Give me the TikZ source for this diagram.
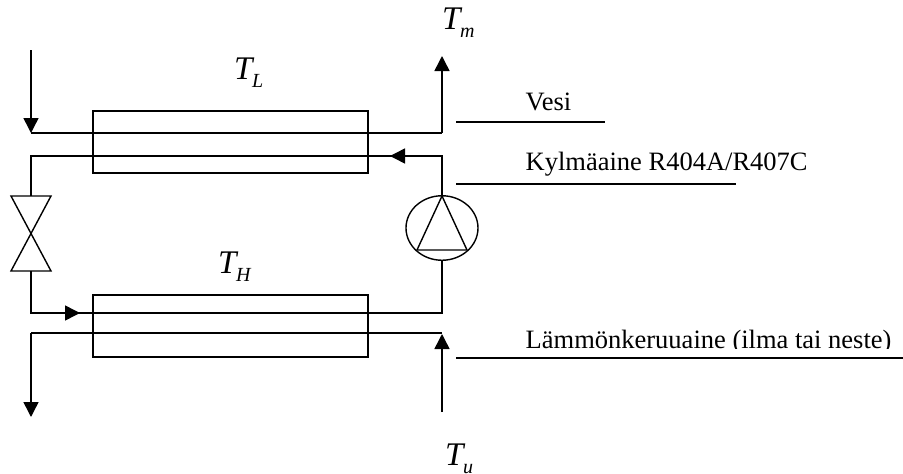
\documentclass[tikz,border=0pt]{standalone}
\usepackage{fontspec}
\setmainfont{Liberation Serif}
\usetikzlibrary{arrows.meta,shapes.geometric}
\newcommand{\TempLabel}[1]{\fontsize{33}{33}\selectfont\textit{T}\kern-2.4pt\raisebox{-8pt}{\fontsize{20}{20}\selectfont\textit{#1}}}
\tikzset{
  x=1pt,y=-1pt,
  pipe/.style={draw=black,line width=1.5pt,line join=miter},
  flow/.style={pipe,-{Triangle[width=15pt,length=15pt]}},
  hx/.style={draw=black,line width=1.4pt,rectangle,inner sep=0pt,minimum width=275pt},
  pumpc/.style={draw=black,line width=1.4pt,ellipse,inner sep=0pt,minimum width=72pt,minimum height=64.5pt},
  caption/.style={font=\fontsize{26.5}{28}\selectfont,anchor=base west,inner sep=0pt},
  temp/.style={anchor=base west,inner sep=0pt},
  rule/.style={draw=black,line width=1.5pt}
}
\begin{document}
\begin{tikzpicture}
\useasboundingbox[clip] (0,0) rectangle (903,474);
% exchangers
\node[hx,minimum height=62pt] (hxL) at (230.5,142) {};
\node[hx,minimum height=62pt] (hxH) at (230.5,326) {};
% pump and valve
\node[pumpc] (pump) at (442,228) {};
\coordinate (ptop) at (442,196);
\coordinate (pbl) at (417,250);
\coordinate (pbr) at (467,250);
\draw[pipe,line width=1.4pt] (ptop) -- (pbl) -- (pbr) -- cycle;
\coordinate (vtl) at (11,196);
\coordinate (vtr) at (51,196);
\coordinate (vm) at (31,234);
\coordinate (vbl) at (11,271);
\coordinate (vbr) at (51,271);
\draw[pipe,line width=1.4pt] (vtl) -- (vtr) -- (vbl) -- (vbr) -- cycle;
\coordinate (vt) at (31,196);
\coordinate (vb) at (31,271);
% water circuit
\coordinate (w0) at (31,50);
\coordinate (w1) at (31,133);
\coordinate (w2) at (442,133);
\coordinate (w3) at (442,56);
\draw[flow] (w0) -- (w1);
\draw[pipe] (w1) -- (w2);
\draw[flow] (w2) -- (w3);
% refrigerant circuit
\coordinate (r1) at (442,156);
\coordinate (r2) at (31,156);
\coordinate (ra) at (390,156);
\draw[pipe] (ptop) -- (r1) -- (r2) -- (vt);
\draw[flow] (r1) -- (ra);
\coordinate (r3) at (31,313);
\coordinate (r4) at (442,313);
\coordinate (rb) at (80,313);
\draw[pipe] (vb) -- (r3) -- (r4) -- (pump.south);
\draw[flow] (50,313) -- (rb);
% source circuit
\coordinate (s0) at (442,412);
\coordinate (s1) at (442,334);
\coordinate (s2) at (31,333);
\coordinate (s3) at (31,417);
\draw[flow] (s0) -- (s1);
\draw[pipe,line width=1.3pt] (442,333) -- (s2);
\draw[flow] (s2) -- (s3);
% temperature labels
\node[temp] (tl) at (234,79) {\TempLabel{L}};
\node[temp] (th) at (218,273) {\TempLabel{H}};
\node[temp] (tm) at (442,29) {\TempLabel{m}};
\node[temp] (tu) at (445,465) {\TempLabel{u}};
% captions
\node[caption] (cv) at (525.5,110.5) {Vesi};
\node[caption] (ck) at (525.5,170) {Kylmäaine R404A/R407C};
\node[caption] (cl) at (525.5,348) {Lämmönkeruuaine (ilma tai neste)};
\fill[white] (515,349) rectangle (903,356.5);
\coordinate (l1a) at (456,122); \coordinate (l1b) at (605,122);
\coordinate (l2a) at (456,184); \coordinate (l2b) at (736,184);
\coordinate (l3a) at (456,358); \coordinate (l3b) at (903,358);
\draw[rule] (l1a) -- (l1b);
\draw[rule] (l2a) -- (l2b);
\draw[rule] (l3a) -- (l3b);
\end{tikzpicture}
\end{document}
